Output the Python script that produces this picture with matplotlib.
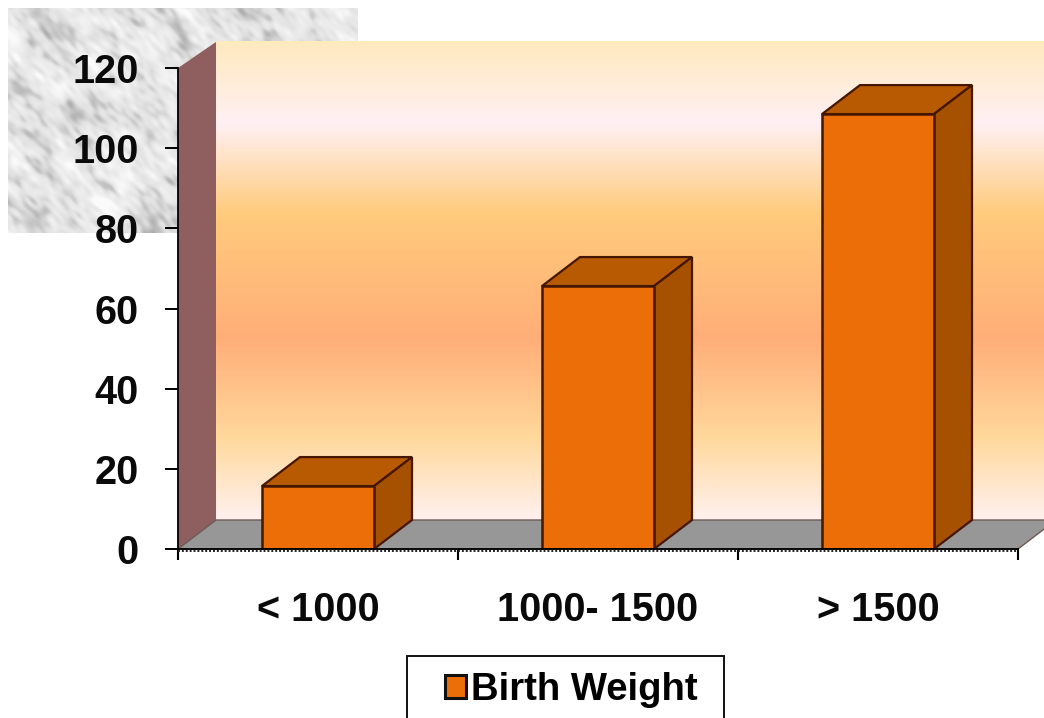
import numpy as np
import matplotlib
matplotlib.use('Agg')
import matplotlib.pyplot as plt
from matplotlib.colors import LinearSegmentedColormap
from matplotlib.patches import Polygon, Rectangle
from matplotlib.transforms import ScaledTranslation

categories = ['< 1000', '1000- 1500', '> 1500']
birth_weight = [15.7, 65.6, 108.5]
y_ticks = [0, 20, 40, 60, 80, 100, 120]
legend_label = 'Birth Weight'

W, H = 1044, 718
plt.rcParams['font.family'] = ['Liberation Sans', 'DejaVu Sans']

fig = plt.figure(figsize=(W / 100, H / 100), dpi=100, facecolor='white')


def px_axes(x0, y0, x1, y1, **kw):
    # axes from pixel box, y measured from the top of the picture
    return fig.add_axes([x0 / W, 1 - y1 / H, (x1 - x0) / W, (y1 - y0) / H], **kw)


# marble picture behind the chart, just layered sines turned by the golden angle
marble_ax = px_axes(8, 8, 358, 233)
marble_ax.axis('off')
u, v = np.meshgrid(np.arange(350.0), np.arange(225.0))
# stretch along the diagonal so the veins lean up to the right
a = (u + v) * 0.7
b = (u - v) * 1.6
tex = np.zeros_like(u)
for k in range(1, 90):
    f = 0.035 * 1.03 ** k
    th = k * 2.39996
    tex += np.sin(f * (a * np.cos(th) + b * np.sin(th)) + k * k * 1.7) / f ** 0.3
tex = (tex - tex.mean()) / tex.std()
# mostly pale stone, only the darker part of the pattern shows as veins
marble = np.clip(0.9 + 0.035 * tex - 0.05 * np.clip(-tex - 0.5, 0, None), 0.6, 0.98)
marble_ax.imshow(marble, cmap='gray', vmin=0, vmax=1, aspect='auto', interpolation='bilinear')

ax = px_axes(178, 68, 1018, 549)
ax.patch.set_alpha(0)

# depth of the fake 3d box, in data units
dx = 38 / 280
dy = 29 / 4.008
wall_top = 126.5

wall_cmap = LinearSegmentedColormap.from_list('wall', [
    (0.00, '#FFE9BE'), (0.17, '#FFF0F4'), (0.36, '#FFCB7C'),
    (0.62, '#FFAE78'), (0.83, '#FFD89C'), (1.00, '#FFF1EF')])
grad = np.linspace(0, 1, 256).reshape(-1, 1)
ax.imshow(grad, cmap=wall_cmap, aspect='auto', clip_on=False, zorder=0,
          extent=(dx, 3 + dx, dy, wall_top), origin='upper')
ax.set_xlim(0, len(categories))
ax.set_ylim(0, 120)

# side wall and floor
ax.add_patch(Polygon([(0, 0), (dx, dy), (dx, wall_top), (0, 120)], closed=True,
                     fc='#8F5F5F', ec='none', clip_on=False, zorder=1))
ax.add_patch(Polygon([(0, 0), (3, 0), (3 + dx, dy), (dx, dy)], closed=True,
                     fc='#979797', ec='#6E5A55', lw=1, clip_on=False, zorder=1))

x = np.arange(len(categories)) + 0.5
bw = 0.4
edge = '#451600'
ax.bar(x, birth_weight, bw, color='#EC6E08', edgecolor=edge, linewidth=1.8, zorder=3,
       label=legend_label)
for xi, val in zip(x, birth_weight):
    l, r = xi - bw / 2, xi + bw / 2
    ax.add_patch(Polygon([(l, val), (r, val), (r + dx, val + dy), (l + dx, val + dy)], closed=True,
                         fc='#B85A02', ec=edge, lw=1.6, zorder=2, clip_on=False))
    ax.add_patch(Polygon([(r, 0), (r + dx, dy), (r + dx, val + dy), (r, val)], closed=True,
                         fc='#A65002', ec=edge, lw=1.6, zorder=2, clip_on=False))

# axes
for s in ['top', 'right']:
    ax.spines[s].set_visible(False)
for s in ['left', 'bottom']:
    ax.spines[s].set_linewidth(1.3)
    ax.spines[s].set_zorder(4)
ax.set_yticks(y_ticks)
ax.set_xticks([0, 1, 2, 3])
ax.set_xticklabels([])
ax.set_xticks(x, minor=True)
ax.set_xticklabels(categories, minor=True)
ax.tick_params(axis='x', which='minor', length=0, pad=30, labelsize=28.5)
ax.tick_params(axis='x', which='major', length=8, width=1.5)
ax.tick_params(axis='y', length=9.5, width=1.4, pad=19, labelsize=28.5)
for t in ax.get_xticklabels(minor=True) + ax.get_yticklabels():
    t.set_fontweight('bold')
    t.set_color('#0A0A0A')

# dotted line just under the category axis
shift = ax.transData + ScaledTranslation(0, -2 / 100, fig.dpi_scale_trans)
ax.plot([0, 3], [0, 0], color='#222222', lw=1.4, ls=(0, (1, 1)), transform=shift, clip_on=False, zorder=4)

# legend box runs off the bottom of the picture, so frame drawn on its own
fig.add_artist(Rectangle((407 / W, -0.02), 317 / W, 1 - 656 / H + 0.02, transform=fig.transFigure,
                         fc='white', ec='#111111', lw=1.4, zorder=5))
leg = fig.legend(*ax.get_legend_handles_labels(), loc='upper left',
                 bbox_to_anchor=(445 / W, 1 - 672 / H), frameon=False, borderpad=0, borderaxespad=0,
                 handlelength=0.56, handleheight=0.56, handletextpad=0.12,
                 prop={'weight': 'bold', 'size': 27.5})
leg.set_zorder(6)
leg.legend_handles[0].set_edgecolor('#111111')
leg.legend_handles[0].set_linewidth(2.2)

fig.savefig('out.png', dpi=100)
